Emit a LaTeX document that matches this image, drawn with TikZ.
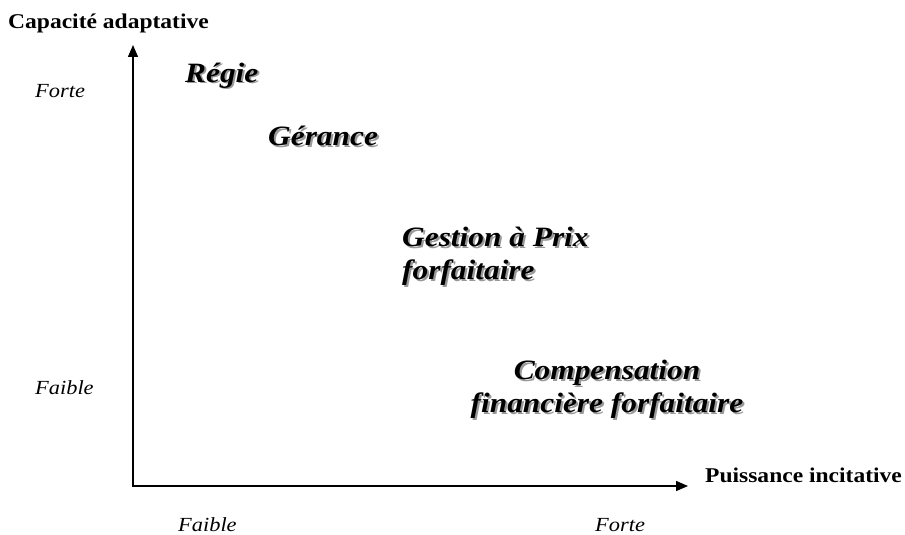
\documentclass[tikz,border=0pt]{standalone}
\usepackage{fontspec}
\setmainfont{Liberation Serif}[FakeStretch=1.12]
\usetikzlibrary{arrows.meta}

\begin{document}
\begin{tikzpicture}[x=1pt, y=-1pt,
    axe/.style={line width=1.4pt, {Triangle[length=12pt,width=10pt]}-{Triangle[length=12pt,width=10pt]}},
    titre/.style={font=\fontsize{21}{24}\selectfont\bfseries, inner sep=0pt},
    niveau/.style={font=\fontsize{20}{24}\selectfont\itshape, inner sep=0pt},
    mode/.style={font=\fontsize{28}{33}\selectfont\bfseries\itshape, inner sep=0pt},
    ombre/.style={mode, text=black!40, xshift=2pt, yshift=-2pt}]
    \useasboundingbox (0,0) rectangle (905,535);
    \coordinate (Origin) at (133,486);
    \coordinate (Ytip) at (133,45);
    \coordinate (Xtip) at (688,486);
    \draw[axe] (Ytip) -- (Origin) -- (Xtip);
    % axis titles
    \node[titre, anchor=base west] (capacite) at (8,29) {Capacité adaptative};
    \node[titre, anchor=base west] (puissance) at (705,482) {Puissance incitative};
    % levels
    \node[niveau, anchor=base west] (forteY) at (35,97) {Forte};
    \node[niveau, anchor=base west] (faibleY) at (35,394) {Faible};
    \node[niveau, anchor=base west] (faibleX) at (178,531) {Faible};
    \node[niveau, anchor=base west] (forteX) at (595,531) {Forte};
    % modes
    \node[ombre, anchor=base west] (regieS) at (185,82) {Régie};
    \node[mode, anchor=base west] (regie) at (185,82) {Régie};
    \node[ombre, anchor=base west] (geranceS) at (268,145) {Gérance};
    \node[mode, anchor=base west] (gerance) at (268,145) {Gérance};
    \node[ombre, anchor=west, align=left] (gestionS) at (402,256) {Gestion à Prix\\forfaitaire};
    \node[mode, anchor=west, align=left] (gestion) at (402,256) {Gestion à Prix\\forfaitaire};
    \node[ombre, align=center] (compensationS) at (607,389) {Compensation\\financière forfaitaire};
    \node[mode, align=center] (compensation) at (607,389) {Compensation\\financière forfaitaire};
\end{tikzpicture}
\end{document}
